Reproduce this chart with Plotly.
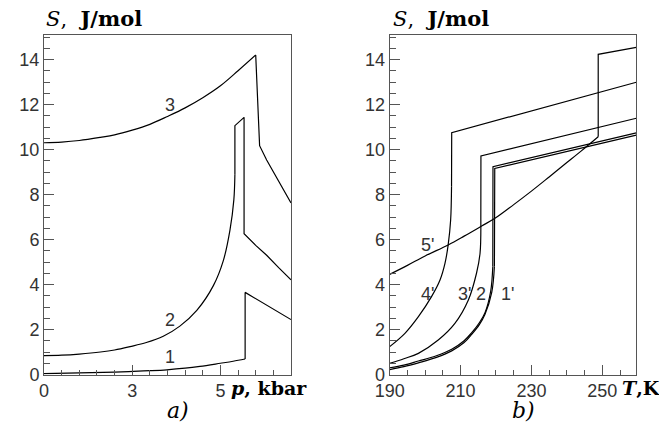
import plotly.graph_objects as go

# ---------------- data: panel a) S(p) ----------------
p_curve3 = [0, 0.5, 1.0, 1.6, 2.0, 2.5, 3.0, 3.5, 4.0, 4.5, 5.0, 5.5, 6.0, 6.11, 6.31, 6.69, 7.0]
S_curve3 = [10.3, 10.33, 10.4, 10.54, 10.65, 10.86, 11.12, 11.47, 11.85, 12.3, 12.83, 13.5, 14.2, 10.17, 9.53, 8.5, 7.63]

p_curve2 = [0, 0.5, 1.0, 1.6, 2.0, 2.44, 2.9, 3.38, 3.85, 4.33, 4.8, 5.08, 5.27, 5.38, 5.41, 5.41, 5.67, 5.67, 6.0, 6.31, 6.65, 7.0]
S_curve2 = [0.84, 0.86, 0.91, 1.0, 1.09, 1.24, 1.42, 1.7, 2.15, 2.85, 3.95, 5.05, 6.42, 7.76, 8.9, 11.06, 11.43, 6.26, 5.74, 5.3, 4.75, 4.21]

p_curve1 = [0, 1.0, 2.0, 2.53, 3.0, 3.48, 4.0, 4.42, 5.0, 5.36, 5.70, 5.70, 7.0]
S_curve1 = [0.04, 0.07, 0.11, 0.14, 0.17, 0.21, 0.28, 0.36, 0.5, 0.59, 0.69, 3.65, 2.44]

# ---------------- data: panel b) S(T) ----------------
T_curve5 = [190, 195, 200, 206.5, 211, 215.95, 219.7, 225, 230, 235, 240, 244, 248.85, 248.85, 259.6]
S_curve5 = [4.45, 4.85, 5.27, 5.76, 6.15, 6.6, 6.94, 7.55, 8.15, 8.78, 9.42, 9.93, 10.57, 14.23, 14.54]

T_curve4 = [190, 194.3, 198.1, 201.8, 204.2, 205.6, 206.5, 207.2, 207.45, 207.5, 259.6]
S_curve4 = [1.24, 1.83, 2.57, 3.46, 4.2, 4.94, 5.76, 6.87, 8.35, 10.75, 12.99]

T_curve3 = [190, 194, 198.1, 203.7, 208.4, 212.2, 214.5, 215.5, 215.72, 215.75, 259.6]
S_curve3b = [0.5, 0.7, 0.94, 1.53, 2.27, 3.31, 4.5, 5.39, 6.87, 9.71, 11.39]

T_curve2 = [190, 194, 198.1, 203, 207.5, 211, 213.1, 215.3, 216.9, 218.5, 219.1, 219.15, 259.6]
S_curve2b = [0.3, 0.42, 0.6, 0.82, 1.12, 1.5, 1.85, 2.3, 2.75, 3.7, 4.8, 9.24, 10.74]

T_curve1 = [190, 194, 198.1, 203, 207.5, 211, 213.1, 215.3, 216.9, 218.8, 219.55, 219.65, 259.6]
S_curve1b = [0.22, 0.35, 0.52, 0.75, 1.05, 1.42, 1.78, 2.22, 2.68, 3.65, 4.8, 9.16, 10.64]

# tick labels
p_tickvals = [0, 2.5, 5]
p_ticktext = ["0", "3", "5"]
T_tickvals = [190, 210, 230, 250]
S_tickvals = [0, 2, 4, 6, 8, 10, 12, 14]

# curve labels: (text, x, y)
labels_a = [("3", 3.57, 12.0), ("2", 3.57, 2.44), ("1", 3.57, 0.78)]
labels_b = [("5'", 200.6, 5.77), ("4'", 200.6, 3.6), ("3'", 211.0, 3.6), ("2", 215.7, 3.6), ("1'", 223.3, 3.6)]

LINE_COLOR = "black"
LINE_W = 1.2
fig = go.Figure()


def draw(xs, ys, n_smooth, xa, ya):
    """first n_smooth+1 points drawn as a smooth curve, the rest as straight segments"""
    fig.add_trace(go.Scatter(x=xs[:n_smooth + 1], y=ys[:n_smooth + 1], mode="lines",
                             line=dict(color=LINE_COLOR, width=LINE_W, shape="spline", smoothing=1.0),
                             xaxis=xa, yaxis=ya, showlegend=False, hoverinfo="skip"))
    if n_smooth < len(xs) - 1:
        fig.add_trace(go.Scatter(x=xs[n_smooth:], y=ys[n_smooth:], mode="lines",
                                 line=dict(color=LINE_COLOR, width=LINE_W),
                                 xaxis=xa, yaxis=ya, showlegend=False, hoverinfo="skip"))


draw(p_curve3, S_curve3, 12, "x", "y")
draw(p_curve2, S_curve2, 14, "x", "y")
draw(p_curve1, S_curve1, 10, "x", "y")
draw(T_curve5, S_curve5, 12, "x2", "y2")
draw(T_curve4, S_curve4, 8, "x2", "y2")
draw(T_curve3, S_curve3b, 8, "x2", "y2")
draw(T_curve2, S_curve2b, 10, "x2", "y2")
draw(T_curve1, S_curve1b, 10, "x2", "y2")

AX = "#555555"
TICKFONT = dict(family="Liberation Sans, Arial, sans-serif", size=18, color="#333333")
common = dict(showline=True, mirror=True, linecolor=AX, linewidth=1, showgrid=False, zeroline=False,
              ticks="inside", ticklen=10, tickcolor=AX, tickwidth=1, tickfont=TICKFONT, automargin=False)

YDOM = [(426 - 374.5) / 426, (426 - 35) / 426]
fig.update_layout(
    width=659, height=426,
    margin=dict(l=0, r=0, t=0, b=0, autoexpand=False),
    paper_bgcolor="white", plot_bgcolor="white",
    xaxis=dict(domain=[44 / 659, 291 / 659], range=[0, 7], tickmode="array", tickvals=p_tickvals,
               ticktext=p_ticktext, anchor="y",
               minor=dict(tickmode="linear", tick0=0, dtick=0.5, ticks="inside", ticklen=5, tickcolor=AX),
               **common),
    yaxis=dict(domain=YDOM, range=[0, 15.09], tickmode="array", tickvals=S_tickvals, anchor="x",
               minor=dict(tickmode="linear", tick0=0, dtick=0.5, ticks="inside", ticklen=6, tickcolor=AX),
               **common),
    xaxis2=dict(domain=[389.7 / 659, 636.3 / 659], range=[190, 259.6], tickmode="array", tickvals=T_tickvals,
                anchor="y2",
                minor=dict(tickmode="linear", tick0=190, dtick=5, ticks="inside", ticklen=5, tickcolor=AX),
                **common),
    yaxis2=dict(domain=YDOM, range=[0, 15.09], tickmode="array", tickvals=S_tickvals, anchor="x2",
                minor=dict(tickmode="linear", tick0=0, dtick=0.5, ticks="inside", ticklen=6, tickcolor=AX),
                **common),
)

SERIF = "DejaVu Serif, Liberation Serif, serif"
ann = []
for xpix in [44, 391]:
    ann.append(dict(text="<i>S</i>,&nbsp;&nbsp;<b>J/mol</b>", x=xpix / 659, y=(426 - 18.5) / 426,
                    xref="paper", yref="paper", xanchor="left", yanchor="middle", showarrow=False,
                    font=dict(family=SERIF, size=21, color="black")))
ann.append(dict(text="<b><i>p</i>, kbar</b>", x=229 / 659, y=(426 - 388) / 426, xref="paper", yref="paper",
                xanchor="left", yanchor="middle", showarrow=False, font=dict(family=SERIF, size=19, color="black")))
ann.append(dict(text="<b><i>T</i>,K</b>", x=620 / 659, y=(426 - 388) / 426, xref="paper", yref="paper",
                xanchor="left", yanchor="middle", showarrow=False, font=dict(family=SERIF, size=19, color="black")))
ann.append(dict(text="<i>a)</i>", x=178 / 659, y=(426 - 410) / 426, xref="paper", yref="paper",
                xanchor="center", yanchor="middle", showarrow=False, font=dict(family=SERIF, size=22, color="black")))
ann.append(dict(text="<i>b)</i>", x=523 / 659, y=(426 - 410) / 426, xref="paper", yref="paper",
                xanchor="center", yanchor="middle", showarrow=False, font=dict(family=SERIF, size=22, color="black")))
for t, x, y in labels_a:
    ann.append(dict(text=t, x=x, y=y, xref="x", yref="y", showarrow=False, font=TICKFONT))
for t, x, y in labels_b:
    ann.append(dict(text=t, x=x, y=y, xref="x2", yref="y2", showarrow=False, font=TICKFONT))
fig.update_layout(annotations=ann)

fig.write_html("out.html")
